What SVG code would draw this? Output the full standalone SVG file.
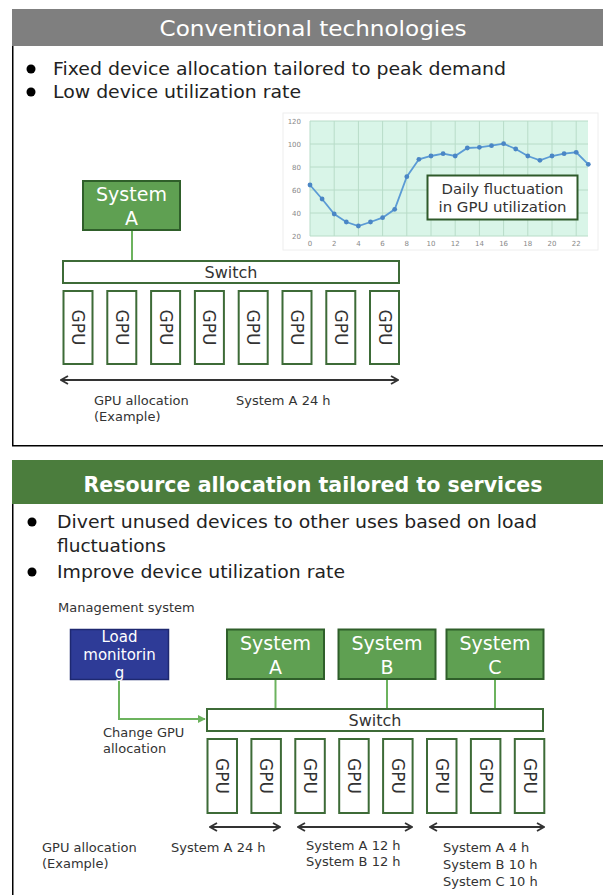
<svg xmlns="http://www.w3.org/2000/svg" width="603" height="895" viewBox="0 0 603 895">
<defs>
<style>
text{font-family:"DejaVu Sans","Noto Sans",sans-serif}
.title{fill:#fff;font-size:21px;text-anchor:middle}
.bul{fill:#222;font-size:18px}
.lbl{fill:#333;font-size:13px}
.sys{fill:#5fa052;stroke:#2f5f2a;stroke-width:2}
.systx{fill:#fff;font-size:19px;text-anchor:middle}
.gpu{fill:#fff;stroke:#3d6b37;stroke-width:2}
.gputx{fill:#333;font-size:17px;text-anchor:middle;dominant-baseline:central}
.sw{fill:#fff;stroke:#3d6b37;stroke-width:2}
.swtx{fill:#333;font-size:16px;text-anchor:middle}
.conn{stroke:#6cb35e;stroke-width:2;fill:none}
.dim{stroke:#333;stroke-width:2;fill:none;marker-start:url(#chev);marker-end:url(#chev)}
.grid{stroke:#b8dcc8;stroke-width:1}
.ax{fill:#888;font-size:7px}
</style>
<marker id="chev" viewBox="0 0 10 10" refX="9" refY="5" markerWidth="10" markerHeight="10" markerUnits="userSpaceOnUse" orient="auto-start-reverse">
<path d="M2,1 L9,5 L2,9" fill="none" stroke="#333" stroke-width="1.8"/>
</marker>
<marker id="tri" viewBox="0 0 10 10" refX="9" refY="5" markerWidth="8" markerHeight="8" markerUnits="userSpaceOnUse" orient="auto">
<path d="M0,0 L10,5 L0,10 Z" fill="#6cb35e"/>
</marker>
</defs>
<rect width="603" height="895" fill="#fff"/>

<!-- Top panel -->
<g id="panel-top">
<rect x="12" y="9" width="591" height="37" fill="#7f7f7f"/>
<text class="title" x="313" y="36" textLength="307" lengthAdjust="spacingAndGlyphs">Conventional technologies</text>
<path d="M12.75,46 V445.75 H603" fill="none" stroke="#000" stroke-width="1.5"/>
<circle cx="31" cy="69" r="4.5" fill="#000"/>
<text class="bul" x="53" y="75" textLength="453" lengthAdjust="spacingAndGlyphs">Fixed device allocation tailored to peak demand</text>
<circle cx="31" cy="92" r="4.5" fill="#000"/>
<text class="bul" x="53" y="98" textLength="248" lengthAdjust="spacingAndGlyphs">Low device utilization rate</text>
</g>

<!-- Chart -->
<g id="chart">
<rect x="283" y="113" width="315" height="137" fill="#fff" stroke="#eeeeee"/>
<rect x="310" y="121" width="278" height="115" fill="#d9f5e8"/>
<g class="grid">
<line x1="310" y1="121" x2="588" y2="121"/>
<line x1="310" y1="144" x2="588" y2="144"/>
<line x1="310" y1="167" x2="588" y2="167"/>
<line x1="310" y1="190" x2="588" y2="190"/>
<line x1="310" y1="213" x2="588" y2="213"/>
<line x1="310" y1="236" x2="588" y2="236"/>
<line x1="310" y1="121" x2="310" y2="236"/>
<line x1="334.2" y1="121" x2="334.2" y2="236"/>
<line x1="358.4" y1="121" x2="358.4" y2="236"/>
<line x1="382.6" y1="121" x2="382.6" y2="236"/>
<line x1="406.8" y1="121" x2="406.8" y2="236"/>
<line x1="431" y1="121" x2="431" y2="236"/>
<line x1="455.2" y1="121" x2="455.2" y2="236"/>
<line x1="479.4" y1="121" x2="479.4" y2="236"/>
<line x1="503.6" y1="121" x2="503.6" y2="236"/>
<line x1="527.8" y1="121" x2="527.8" y2="236"/>
<line x1="552" y1="121" x2="552" y2="236"/>
<line x1="576.2" y1="121" x2="576.2" y2="236"/>
</g>
<g class="ax" text-anchor="end">
<text x="301" y="123.5">120</text>
<text x="301" y="146.5">100</text>
<text x="301" y="169.5">80</text>
<text x="301" y="192.5">60</text>
<text x="301" y="215.5">40</text>
<text x="301" y="238.5">20</text>
</g>
<g class="ax" text-anchor="middle">
<text x="310" y="246">0</text>
<text x="334.2" y="246">2</text>
<text x="358.4" y="246">4</text>
<text x="382.6" y="246">6</text>
<text x="406.8" y="246">8</text>
<text x="431" y="246">10</text>
<text x="455.2" y="246">12</text>
<text x="479.4" y="246">14</text>
<text x="503.6" y="246">16</text>
<text x="527.8" y="246">18</text>
<text x="552" y="246">20</text>
<text x="576.2" y="246">22</text>
</g>
<polyline fill="none" stroke="#5b9bd5" stroke-width="1.8" points="310,185 322.1,199 334.2,214 346.3,222 358.4,226 370.5,222 382.6,217.7 394.7,209.3 406.8,176.7 418.9,159.3 431,156 443.1,153.7 455.2,156 467.3,148 479.4,147.3 491.5,145.7 503.6,143.7 515.7,149 527.8,156 539.9,160.3 552,156 564.1,153.7 576.2,152.3 588.3,164.3"/>
<g fill="#4a86c5">
<circle cx="310" cy="185" r="2.4"/><circle cx="322.1" cy="199" r="2.4"/><circle cx="334.2" cy="214" r="2.4"/><circle cx="346.3" cy="222" r="2.4"/><circle cx="358.4" cy="226" r="2.4"/><circle cx="370.5" cy="222" r="2.4"/><circle cx="382.6" cy="217.7" r="2.4"/><circle cx="394.7" cy="209.3" r="2.4"/><circle cx="406.8" cy="176.7" r="2.4"/><circle cx="418.9" cy="159.3" r="2.4"/><circle cx="431" cy="156" r="2.4"/><circle cx="443.1" cy="153.7" r="2.4"/><circle cx="455.2" cy="156" r="2.4"/><circle cx="467.3" cy="148" r="2.4"/><circle cx="479.4" cy="147.3" r="2.4"/><circle cx="491.5" cy="145.7" r="2.4"/><circle cx="503.6" cy="143.7" r="2.4"/><circle cx="515.7" cy="149" r="2.4"/><circle cx="527.8" cy="156" r="2.4"/><circle cx="539.9" cy="160.3" r="2.4"/><circle cx="552" cy="156" r="2.4"/><circle cx="564.1" cy="153.7" r="2.4"/><circle cx="576.2" cy="152.3" r="2.4"/><circle cx="588.3" cy="164.3" r="2.4"/>
</g>
<rect x="427.5" y="175.5" width="150" height="44" fill="#fff" stroke="#2f5a2a" stroke-width="2"/>
<text x="502.5" y="194" fill="#333" font-size="14.5" text-anchor="middle" textLength="122" lengthAdjust="spacingAndGlyphs">Daily fluctuation</text>
<text x="502.5" y="211.5" fill="#333" font-size="14.5" text-anchor="middle" textLength="128" lengthAdjust="spacingAndGlyphs">in GPU utilization</text>
</g>

<!-- Top connectors -->
<g id="connectors-top">
<line class="conn" x1="132" y1="230" x2="132" y2="261"/>
<line class="dim" x1="61" y1="380" x2="398" y2="380"/>
</g>

<g id="sysA-top">
<rect class="sys" x="83" y="181" width="97" height="49"/>
<text class="systx" x="131.5" y="201">System</text>
<text class="systx" x="131.5" y="225">A</text>
</g>
<g id="switch-top">
<rect class="sw" x="63" y="261" width="336" height="22"/>
<text class="swtx" x="231" y="278">Switch</text>
</g>
<g id="gpus-top">
<rect class="gpu" x="63.5" y="291" width="29" height="73"/><text class="gputx" transform="translate(78,327.5) rotate(90)">GPU</text>
<rect class="gpu" x="107.3" y="291" width="29" height="73"/><text class="gputx" transform="translate(121.8,327.5) rotate(90)">GPU</text>
<rect class="gpu" x="151.1" y="291" width="29" height="73"/><text class="gputx" transform="translate(165.6,327.5) rotate(90)">GPU</text>
<rect class="gpu" x="194.9" y="291" width="29" height="73"/><text class="gputx" transform="translate(209.4,327.5) rotate(90)">GPU</text>
<rect class="gpu" x="238.7" y="291" width="29" height="73"/><text class="gputx" transform="translate(253.2,327.5) rotate(90)">GPU</text>
<rect class="gpu" x="282.5" y="291" width="29" height="73"/><text class="gputx" transform="translate(297,327.5) rotate(90)">GPU</text>
<rect class="gpu" x="326.3" y="291" width="29" height="73"/><text class="gputx" transform="translate(340.8,327.5) rotate(90)">GPU</text>
<rect class="gpu" x="370" y="291" width="29" height="73"/><text class="gputx" transform="translate(384.5,327.5) rotate(90)">GPU</text>
</g>
<g id="labels-top">
<text class="lbl" x="94" y="405">GPU allocation</text>
<text class="lbl" x="94" y="421">(Example)</text>
<text class="lbl" x="236" y="405">System A 24 h</text>
</g>

<!-- Bottom panel -->
<g id="panel-bottom">
<rect x="12" y="460" width="591" height="44" fill="#4b7d3d"/>
<text class="title" x="313" y="492" font-weight="bold" textLength="459" lengthAdjust="spacingAndGlyphs">Resource allocation tailored to services</text>
<line x1="12.75" y1="504" x2="12.75" y2="895" stroke="#000" stroke-width="1.5"/>
<circle cx="32" cy="522" r="4.5" fill="#000"/>
<text class="bul" x="57" y="528" textLength="480" lengthAdjust="spacingAndGlyphs">Divert unused devices to other uses based on load</text>
<text class="bul" x="57" y="552" textLength="109" lengthAdjust="spacingAndGlyphs">fluctuations</text>
<circle cx="32" cy="572" r="4.5" fill="#000"/>
<text class="bul" x="57" y="578" textLength="288" lengthAdjust="spacingAndGlyphs">Improve device utilization rate</text>
<text class="lbl" x="58" y="612">Management system</text>
</g>

<g id="connectors-bottom">
<polyline class="conn" points="119,679 119,719 205,719" marker-end="url(#tri)"/>
<line class="conn" x1="275.5" y1="679" x2="275.5" y2="709"/>
<line class="conn" x1="387" y1="679" x2="387" y2="709"/>
<line class="conn" x1="495" y1="679" x2="495" y2="709"/>
<line class="dim" x1="210" y1="827" x2="280" y2="827"/>
<line class="dim" x1="298" y1="827" x2="412" y2="827"/>
<line class="dim" x1="430" y1="827" x2="544" y2="827"/>
</g>

<g id="load-monitoring">
<rect x="70.5" y="629.5" width="98" height="50" fill="#2e3b97" stroke="#1e2870" stroke-width="1.5"/>
<text x="119.5" y="642" fill="#fff" font-size="15" text-anchor="middle">Load</text>
<text x="119.5" y="660" fill="#fff" font-size="15" text-anchor="middle">monitorin</text>
<text x="119.5" y="678" fill="#fff" font-size="15" text-anchor="middle">g</text>
</g>
<g id="sysA">
<rect class="sys" x="227" y="629.5" width="97" height="49.5"/>
<text class="systx" x="275.5" y="650">System</text>
<text class="systx" x="275.5" y="674">A</text>
</g>
<g id="sysB">
<rect class="sys" x="338.5" y="629.5" width="97" height="49.5"/>
<text class="systx" x="387" y="650">System</text>
<text class="systx" x="387" y="674">B</text>
</g>
<g id="sysC">
<rect class="sys" x="446.5" y="629.5" width="97" height="49.5"/>
<text class="systx" x="495" y="650">System</text>
<text class="systx" x="495" y="674">C</text>
</g>
<g id="switch-bottom">
<rect class="sw" x="207" y="709" width="336" height="22"/>
<text class="swtx" x="375" y="726">Switch</text>
</g>
<g id="gpus-bottom">
<rect class="gpu" x="207.5" y="739" width="29.5" height="74"/><text class="gputx" transform="translate(222.2,776) rotate(90)">GPU</text>
<rect class="gpu" x="251.4" y="739" width="29.5" height="74"/><text class="gputx" transform="translate(266.1,776) rotate(90)">GPU</text>
<rect class="gpu" x="295.3" y="739" width="29.5" height="74"/><text class="gputx" transform="translate(310,776) rotate(90)">GPU</text>
<rect class="gpu" x="339.2" y="739" width="29.5" height="74"/><text class="gputx" transform="translate(353.9,776) rotate(90)">GPU</text>
<rect class="gpu" x="383.1" y="739" width="29.5" height="74"/><text class="gputx" transform="translate(397.8,776) rotate(90)">GPU</text>
<rect class="gpu" x="427" y="739" width="29.5" height="74"/><text class="gputx" transform="translate(441.7,776) rotate(90)">GPU</text>
<rect class="gpu" x="470.9" y="739" width="29.5" height="74"/><text class="gputx" transform="translate(485.6,776) rotate(90)">GPU</text>
<rect class="gpu" x="514.8" y="739" width="29.5" height="74"/><text class="gputx" transform="translate(529.5,776) rotate(90)">GPU</text>
</g>
<g id="labels-bottom">
<text class="lbl" x="103" y="737">Change GPU</text>
<text class="lbl" x="103" y="753">allocation</text>
<text class="lbl" x="42" y="852">GPU allocation</text>
<text class="lbl" x="42" y="868">(Example)</text>
<text class="lbl" x="171" y="852">System A 24 h</text>
<text class="lbl" x="306" y="850">System A 12 h</text>
<text class="lbl" x="306" y="866">System B 12 h</text>
<text class="lbl" x="443" y="852">System A 4 h</text>
<text class="lbl" x="443" y="869">System B 10 h</text>
<text class="lbl" x="443" y="886">System C 10 h</text>
</g>
</svg>
